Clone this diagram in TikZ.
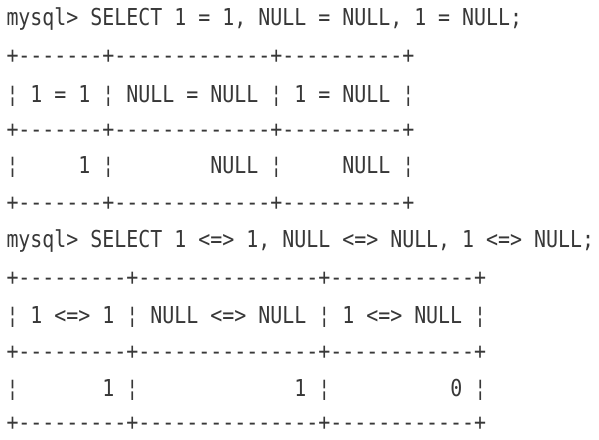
\documentclass[tikz,border=0pt]{standalone}
\usepackage{fontspec}
\setmonofont[FakeStretch=0.855]{DejaVu Sans Mono}
\definecolor{term}{HTML}{383838}
\begin{document}
\begin{tikzpicture}[x=1pt,y=-1pt,
  ln/.style={anchor=base west,inner sep=0pt,outer sep=0pt,text=term,
    font=\ttfamily\fontsize{23.3}{28}\selectfont}]
\useasboundingbox[fill=white] (0,0) rectangle (599,439);
\node[ln] (q1) at (6.5,25)  {mysql>~SELECT~1~=~1,~NULL~=~NULL,~1~=~NULL;};
\node[ln] (b1) at (6.5,63.5) {+-------+-------------+----------+};
\node[ln] (h1) at (6.5,102) {¦~1~=~1~¦~NULL~=~NULL~¦~1~=~NULL~¦};
\node[ln] (b2) at (6.5,137.5) {+-------+-------------+----------+};
\node[ln] (v1) at (6.5,173) {¦~~~~~1~¦~~~~~~~~NULL~¦~~~~~NULL~¦};
\node[ln] (b3) at (6.5,210) {+-------+-------------+----------+};
\node[ln] (q2) at (6.5,247) {mysql>~SELECT~1~<=>~1,~NULL~<=>~NULL,~1~<=>~NULL;};
\node[ln] (b4) at (6.5,285) {+---------+---------------+------------+};
\node[ln] (h2) at (6.5,323) {¦~1~<=>~1~¦~NULL~<=>~NULL~¦~1~<=>~NULL~¦};
\node[ln] (b5) at (6.5,359.5) {+---------+---------------+------------+};
\node[ln] (v2) at (6.5,396) {¦~~~~~~~1~¦~~~~~~~~~~~~~1~¦~~~~~~~~~~0~¦};
\node[ln] (b6) at (6.5,430) {+---------+---------------+------------+};
\end{tikzpicture}
\end{document}
